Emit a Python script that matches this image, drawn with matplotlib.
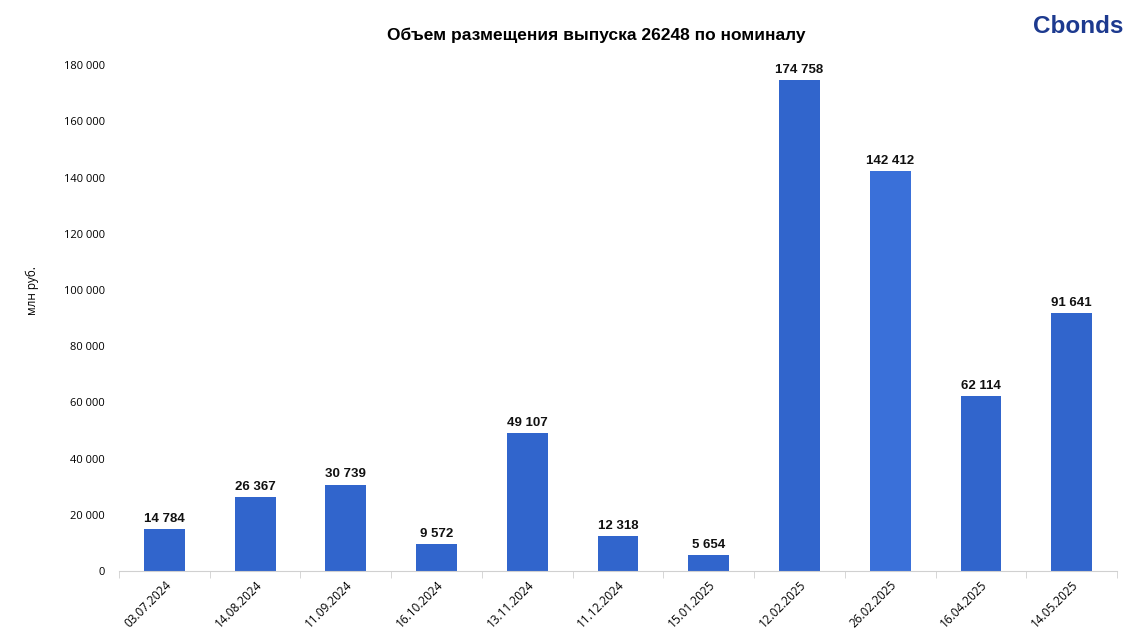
import numpy as np
import matplotlib.pyplot as plt

dates = ['03.07.2024', '14.08.2024', '11.09.2024', '16.10.2024', '13.11.2024',
         '11.12.2024', '15.01.2025', '12.02.2025', '26.02.2025', '16.04.2025', '14.05.2025']
volumes = [14784, 26367, 30739, 9572, 49107, 12318, 5654, 174758, 142412, 62114, 91641]
yticks = np.arange(0, 180001, 20000)

colors = ['#3165cc'] * len(dates)
colors[8] = '#3a70d9'

fig = plt.figure(figsize=(11.41, 6.38), dpi=100)
ax = fig.add_axes([0.1043, 0.105, 0.8747, 0.793])

x = np.arange(len(dates))
ax.bar(x, volumes, width=0.45, color=colors, zorder=2)

for xi, v in zip(x, volumes):
    lab = f'{v:,}'.replace(',', ' ')
    ax.annotate(lab, (xi, v), xytext=(0, 3), textcoords='offset points',
                ha='center', va='bottom', fontsize=9.5, fontweight='bold',
                family='Liberation Sans', color='#111111')

ax.set_xlim(-0.5, len(dates) - 0.5)
ax.set_ylim(0, 180000)
ax.set_yticks(yticks)
ax.set_yticklabels([f'{t:,}'.replace(',', ' ') for t in yticks],
                   family='Open Sans', fontsize=8)
ax.tick_params(axis='y', length=0, pad=10)

ax.set_xticks(x)
ax.set_xticklabels(dates, rotation=45, ha='right', rotation_mode='anchor',
                   family='Open Sans', fontsize=8.5)
ax.tick_params(axis='x', which='major', length=0, pad=5)
ax.set_xticks(np.arange(-0.5, len(dates)), minor=True)
ax.tick_params(axis='x', which='minor', length=5, color='#d0d0d0')

for s in ['top', 'right', 'left']:
    ax.spines[s].set_visible(False)
ax.spines['bottom'].set_color('#d0d0d0')

fig.text(0.028, 0.545, 'млн руб.', rotation=90, ha='center', va='center',
         family='Open Sans', fontsize=8.5)

fig.text(0.523, 0.945, 'Объем размещения выпуска 26248 по номиналу',
         ha='center', va='center', fontsize=12.5, fontweight='bold',
         family='Liberation Sans')

fig.text(0.905, 0.958, 'Cbonds', ha='left', va='center', fontsize=17.5,
         fontweight='bold', family='Liberation Sans', color='#1d3a8f')

fig.savefig('out.png', dpi=100)
